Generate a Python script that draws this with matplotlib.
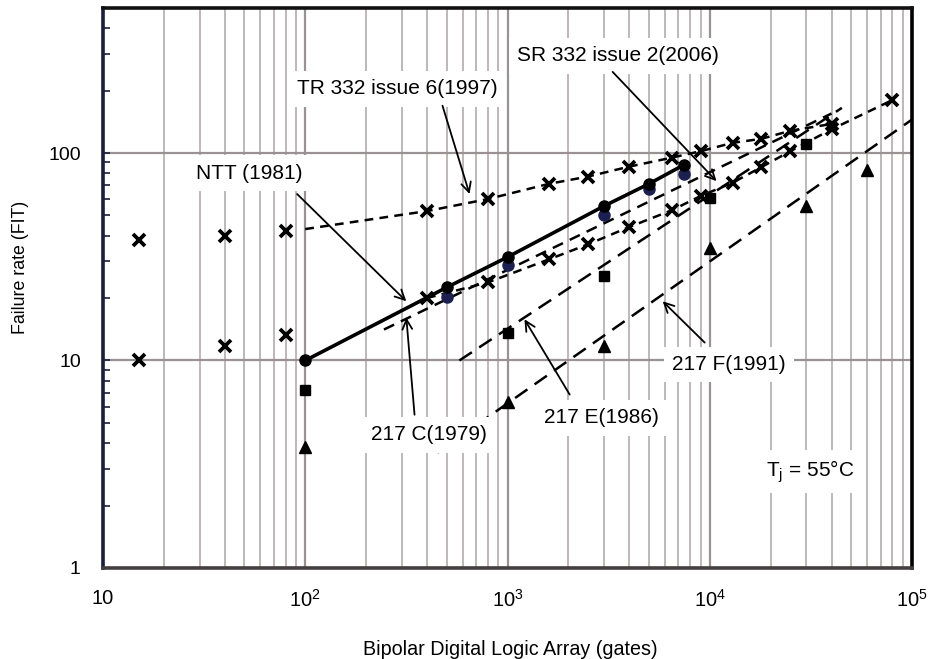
import matplotlib
matplotlib.use("Agg")
import matplotlib.pyplot as plt
from matplotlib.ticker import LogLocator, NullFormatter

plt.rcParams['font.family'] = ['Liberation Sans', 'DejaVu Sans']
plt.rcParams['mathtext.fontset'] = 'custom'
plt.rcParams['mathtext.rm'] = 'Liberation Sans'

# TR 332 issue 6 (1997) - upper crosses
tr_x_left = [15, 40, 80]
tr_y_left = [38, 40, 42]
tr_x = [100, 400, 800, 1600, 2500, 4000, 6500, 9000, 13000, 18000, 25000, 40000]
tr_y = [43, 52.5, 60, 71, 77, 86, 95, 102, 112, 117, 128, 138]

# SR 332 issue 2 (2006) - lower crosses
sr_x_left = [15, 40, 80]
sr_y_left = [10, 11.7, 13.2]
sr_x = [400, 800, 1600, 2500, 4000, 6500, 9000, 13000, 18000, 25000, 40000, 80000]
sr_y = [20, 23.8, 30.7, 36.3, 44, 53, 62, 72, 85.5, 102, 130, 180]

# NTT (1981)
ntt_x = [100, 500, 1000, 3000, 5000, 7500]
ntt_y = [10, 22.5, 31.5, 55.5, 71, 88]

# MIL-HDBK-217 C (1979)
c_x = [500, 1000, 3000, 5000, 7500]
c_y = [20.3, 28.8, 50.5, 67, 79]
c_fit_x = [245, 40000]
c_fit_y = [14.1, 155]

# 217 E (1986)
e_x = [100, 1000, 3000, 10000, 30000]
e_y = [7.2, 13.5, 25.5, 61, 110]
e_fit_x = [578, 45000]
e_fit_y = [10, 165]

# 217 F (1991)
f_x = [100, 1000, 3000, 10000, 30000, 60000]
f_y = [3.84, 6.34, 11.7, 35, 55.5, 83]
f_fit_x = [450, 100000]
f_fit_y = [3.6, 145]

fig = plt.figure(figsize=(9.33, 6.59), dpi=100)
ax = fig.add_axes([0.1104, 0.1381, 0.8671, 0.8498])
ax.set_xscale('log')
ax.set_yscale('log')
ax.set_xlim(10, 1e5)
ax.set_ylim(1, 500)

# grid: every vertical decade subdivision, horizontal only at decades
ax.xaxis.set_minor_locator(LogLocator(base=10, subs=range(2, 10), numticks=20))
ax.xaxis.set_minor_formatter(NullFormatter())
ax.grid(True, which='major', axis='x', color='#9a9292', lw=1.6, zorder=0)
ax.grid(True, which='minor', axis='x', color='#b9b2b2', lw=1.3, zorder=0)
ax.grid(True, which='major', axis='y', color='#9a9292', lw=1.6, zorder=0)

ax.set_xticks([10, 100, 1000, 10000, 100000])
ax.set_xticklabels(['10', r'$10^2$', r'$10^3$', r'$10^4$', r'$10^5$'])
ax.set_yticks([1, 10, 100])
ax.set_yticklabels(['1', '10', '100'])
ax.yaxis.set_minor_locator(LogLocator(base=10, subs=range(2, 10), numticks=20))
ax.yaxis.set_minor_formatter(NullFormatter())
ax.tick_params(axis='x', which='both', length=0, pad=15, labelsize=14.5)
ax.tick_params(axis='y', which='both', direction='in', length=5, width=1.2,
               pad=16, labelsize=14, color='#1a1f3a', right=False)

for side, col in [('left', '#1a1f3a'), ('top', '#111111'), ('right', '#000000'), ('bottom', '#444040')]:
    ax.spines[side].set_linewidth(2.6)
    ax.spines[side].set_color(col)
    ax.spines[side].set_zorder(6)

ax.set_xlabel('Bipolar Digital Logic Array (gates)', fontsize=14.2)
ax.xaxis.set_label_coords(0.503, -0.128)
ax.set_ylabel('Failure rate (FIT)', fontsize=12.8)
ax.yaxis.set_label_coords(-0.092, 0.536)

xkw = dict(marker='x', ms=8.5, mew=2.7, color='black')
# crosses
ax.plot(tr_x_left, tr_y_left, ls='none', zorder=4, **xkw)
ax.plot(tr_x, tr_y, ls=(0, (3.5, 2.5)), lw=1.8, markevery=list(range(1, len(tr_x))), zorder=4, **xkw)
ax.plot(sr_x_left, sr_y_left, ls='none', zorder=4, **xkw)
ax.plot(sr_x, sr_y, ls=(0, (3.5, 2.5)), lw=1.8, zorder=4, **xkw)

# NTT solid
ax.plot(ntt_x, ntt_y, color='black', lw=2.6, marker='o', ms=8, zorder=5)

# 217 C
ax.plot(c_fit_x, c_fit_y, color='black', lw=1.8, ls=(0, (4.5, 3)), zorder=3)
ax.plot(c_x, c_y, ls='none', marker='o', ms=8, color='#1c2050', zorder=4)

# 217 E
ax.plot(e_fit_x, e_fit_y, color='black', lw=1.8, ls=(0, (6, 3.5)), zorder=3)
ax.plot(e_x, e_y, ls='none', marker='s', ms=6.5, color='black', zorder=4)

# 217 F
ax.plot(f_fit_x, f_fit_y, color='black', lw=1.8, ls=(0, (6, 3.5)), zorder=3)
ax.plot(f_x, f_y, ls='none', marker='^', ms=8, color='black', zorder=4)

box = dict(boxstyle='square,pad=0.4', fc='white', ec='none')
labels = [
    ('TR 332 issue 6(1997)', (285, 204)),
    ('SR 332 issue 2(2006)', (3510, 294)),
    ('NTT (1981)', (52.8, 80)),
    ('217 C(1979)', (411, 4.39)),
    ('217 E(1986)', (2917, 5.3)),
    ('217 F(1991)', (12400, 9.56)),
    (r'T$_\mathrm{j}$ = 55°C', (31300, 2.91)),
]
for txt, pos in labels:
    ax.text(pos[0], pos[1], txt, ha='center', va='center', fontsize=15,
            bbox=box, zorder=7)

arrows = [
    ((477, 169), (649, 63.4)),
    ((3310, 246), (10800, 73.2)),
    ((91.2, 63.4), (316, 19.3)),
    ((347, 5.48), (316, 16.1)),
    ((2030, 6.85), (1213, 15.8)),
    ((9440, 12.2), (5850, 19.3)),
]
for tail, tip in arrows:
    ax.annotate('', xy=tip, xytext=tail,
                arrowprops=dict(arrowstyle='->,head_length=0.7,head_width=0.35',
                                color='black', lw=1.3, shrinkA=0, shrinkB=0),
                zorder=8)

fig.savefig('out.png', dpi=100)
